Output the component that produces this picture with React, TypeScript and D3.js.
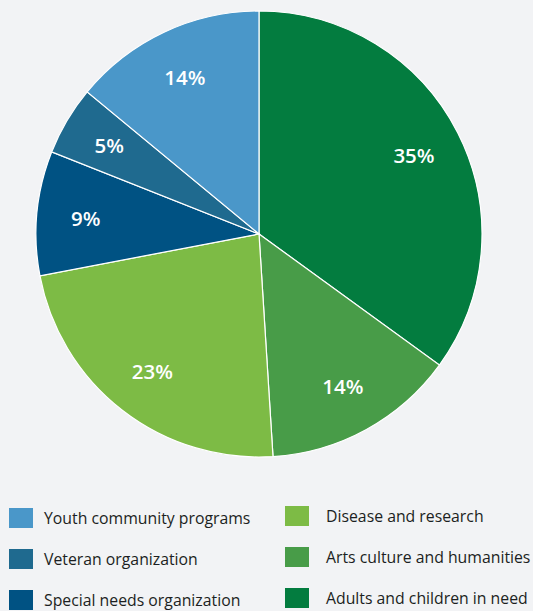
import React from "react";
import * as d3 from "d3";

const categories = [
  "Adults and children in need",
  "Arts culture and humanities",
  "Disease and research",
  "Special needs organization",
  "Veteran organization",
  "Youth community programs",
];
const values = [35, 14, 23, 9, 5, 14];
const colors = ["#037c3f", "#489c48", "#7dbb45", "#005283", "#1f6a8f", "#4a97c9"];

const legendLeft = ["Youth community programs", "Veteran organization", "Special needs organization"];
const legendRight = ["Disease and research", "Arts culture and humanities", "Adults and children in need"];

const W = 533;
const H = 611;
const cx = 259;
const cy = 234;
const R = 223;

export default function App() {
  const data = categories.map((c, i) => ({ name: c, value: values[i], color: colors[i] }));
  const pie = d3.pie<any>().value((d) => d.value).sort(null);
  const arcs = pie(data);
  const arc = d3.arc<any>().innerRadius(0).outerRadius(R);
  const labelArc = d3.arc<any>().innerRadius(R * 0.78).outerRadius(R * 0.78);
  const colorOf = (n: string) => colors[categories.indexOf(n)];

  return (
    <svg width={W} height={H} style={{ position: "absolute", left: 0, top: 0, display: "block" }}>
      <rect width={W} height={H} fill="#f2f3f5" />
      <g transform={`translate(${cx},${cy})`}>
        {arcs.map((a, i) => (
          <path key={i} d={arc(a) as string} fill={a.data.color} stroke="#ffffff" strokeWidth={1.2} />
        ))}
        {arcs.map((a, i) => {
          const [x, y] = labelArc.centroid(a);
          return (
            <text
              key={"l" + i}
              x={x}
              y={y}
              textAnchor="middle"
              dominantBaseline="central"
              fill="#ffffff"
              fontFamily="'Open Sans', sans-serif"
              fontWeight={600}
              fontSize={20.5}
            >
              {a.data.value}%
            </text>
          );
        })}
      </g>
      <g fontFamily="'Open Sans', sans-serif" fontSize={15.8} fill="#1c1f22">
        {legendLeft.map((n, i) => (
          <g key={"ll" + i} transform={`translate(9,${508 + i * 41})`}>
            <rect width={24} height={20} fill={colorOf(n)} />
            <text x={35} y={10} dominantBaseline="central">{n}</text>
          </g>
        ))}
        {legendRight.map((n, i) => (
          <g key={"lr" + i} transform={`translate(285,${506 + i * 41})`}>
            <rect width={24} height={20} fill={colorOf(n)} />
            <text x={41} y={10} dominantBaseline="central">{n}</text>
          </g>
        ))}
      </g>
    </svg>
  );
}
